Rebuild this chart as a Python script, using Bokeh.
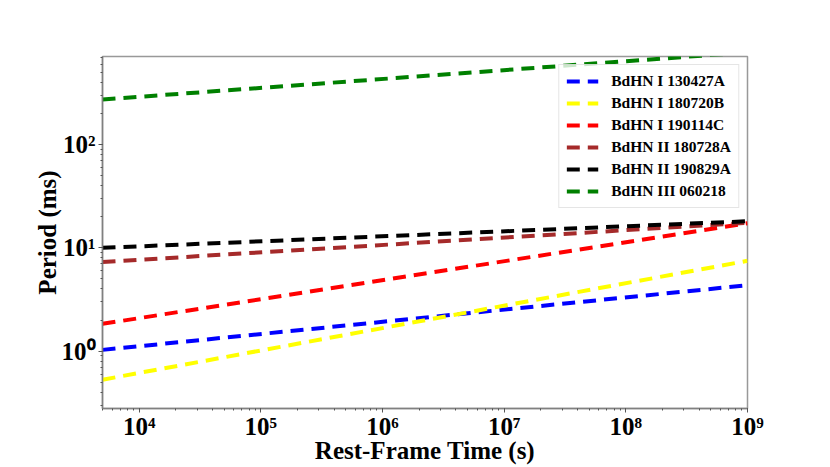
from bokeh.plotting import figure
from bokeh.models import Range1d, CustomJSTickFormatter, Legend, LegendItem
from bokeh.embed import file_html
from bokeh.resources import INLINE

# Data (period in ms vs rest-frame time in s)
t_points = [5e3, 1e9]
names = ["BdHN I 130427A", "BdHN I 180720B", "BdHN I 190114C",
         "BdHN II 180728A", "BdHN II 190829A", "BdHN III 060218"]
colors = ["blue", "yellow", "red", "brown", "black", "green"]
p_130427A = [1.03, 4.35]
p_180720B = [0.53, 7.5]
p_190114C = [1.84, 17.3]
p_180728A = [7.3, 17.5]
p_190829A = [10.0, 18.1]
p_060218 = [273.0, 780.0]
series = [p_130427A, p_180720B, p_190114C, p_180728A, p_190829A, p_060218]

x_range = (5e3, 1e9)
y_range = (0.279, 711.0)

FONT = "Liberation Serif"

p = figure(x_axis_type="log", y_axis_type="log",
           frame_width=645, frame_height=352,
           min_border_left=102, min_border_right=75,
           min_border_top=56, min_border_bottom=58,
           x_range=Range1d(*x_range), y_range=Range1d(*y_range),
           output_backend="svg", toolbar_location=None)

items = []
for name, col, vals in zip(names, colors, series):
    r = p.line(t_points, vals, line_color=col, line_width=4, line_dash="13 8")
    items.append(LegendItem(label=name, renderers=[r]))

legend = Legend(items=items, location="top_right", margin=8,
                label_text_font=FONT, label_text_font_style="bold",
                label_text_font_size="15.5px", label_text_color="black",
                label_standoff=13,
                glyph_width=32, glyph_height=18, label_height=18,
                spacing=4, padding=7,
                border_line_color="#cccccc", border_line_width=1,
                background_fill_color="white", background_fill_alpha=0.8)
p.add_layout(legend)

p.xgrid.visible = False
p.ygrid.visible = False
p.outline_line_color = "#999999"
p.outline_line_width = 1.5

fmt_code = """
const sup = {"0":"\u2070","1":"\u00b9","2":"\u00b2","3":"\u00b3","4":"\u2074",
             "5":"\u2075","6":"\u2076","7":"\u2077","8":"\u2078","9":"\u2079","-":"\u207b"};
const e = Math.round(Math.log10(tick));
return "10" + String(e).split("").map(c => sup[c]).join("");
"""

for ax in (p.xaxis[0], p.yaxis[0]):
    ax.formatter = CustomJSTickFormatter(code=fmt_code)
    ax.major_label_text_font = FONT
    ax.major_label_text_font_style = "bold"
    ax.major_label_text_font_size = "25px"
    ax.major_label_text_color = "black"
    ax.axis_label_text_font = FONT
    ax.axis_label_text_font_style = "bold"
    ax.axis_label_text_font_size = "25px"
    ax.axis_label_text_color = "black"
    ax.axis_line_color = "#808080"
    ax.axis_line_width = 1.5
    ax.major_tick_line_color = "#555555"
    ax.minor_tick_line_color = "#555555"
    ax.major_tick_out = 4
    ax.major_tick_in = 0
    ax.minor_tick_out = 2
    ax.minor_tick_in = 0

p.xaxis.major_label_standoff = 0
p.yaxis.major_label_standoff = 3
p.xaxis.axis_label = "Rest-Frame Time (s)"
p.yaxis.axis_label = "Period (ms)"
p.xaxis.axis_label_standoff = -6
p.yaxis.axis_label_standoff = -2

open("out.html", "w").write(file_html(p, INLINE))
